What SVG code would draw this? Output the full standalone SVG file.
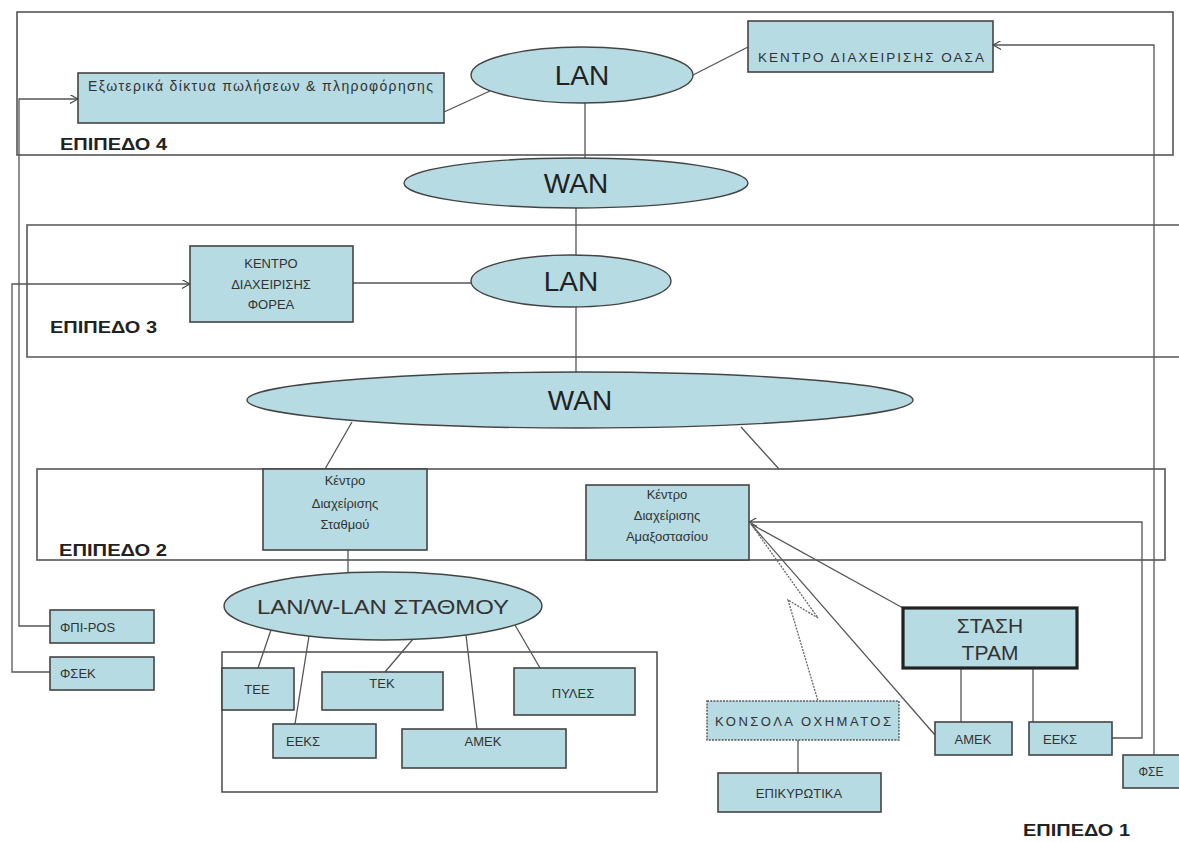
<svg xmlns="http://www.w3.org/2000/svg" width="1179" height="842" viewBox="0 0 1179 842">
  <defs>
    <marker id="arr" viewBox="0 0 10 10" refX="9" refY="5" markerWidth="9" markerHeight="9" markerUnits="userSpaceOnUse" orient="auto">
      <path d="M0,0 L9,5 L0,10" fill="none" stroke="#444" stroke-width="1.3"/>
    </marker>
  </defs>
  <style>
    .frame { fill: none; stroke: #555; stroke-width: 1.6; }
    .box { fill: #b6dbe2; stroke: #444; stroke-width: 1.6; }
    .thick { fill: #b6dbe2; stroke: #222; stroke-width: 3.2; }
    .dash { fill: #b6dbe2; stroke: #555; stroke-width: 1.4; stroke-dasharray: 2 1.2; }
    .net { fill: #b6dbe2; stroke: #444; stroke-width: 1.4; }
    .ln { fill: none; stroke: #555; stroke-width: 1.3; }
    .zz { fill: none; stroke: #666; stroke-width: 1.3; stroke-dasharray: 2 1.2; }
    text { font-family: "Liberation Sans", Arial, sans-serif; fill: #333; }
    .s { font-size: 12px; }
    .m { font-size: 13px; }
    .c { text-anchor: middle; }
    .big { font-size: 28px; fill: #222; text-anchor: middle; }
    .lvl { font-size: 16px; font-weight: bold; fill: #222; }
  </style>
  <rect width="1179" height="842" fill="#ffffff"/>

  <!-- level frames -->
  <g id="frames">
    <rect class="frame" x="17" y="12" width="1156" height="143"/>
    <path class="frame" d="M1179,225 H27 V357 H1179"/>
    <rect class="frame" x="37" y="469" width="1128" height="91"/>
    <rect class="frame" x="222" y="652" width="435" height="140"/>
  </g>

  <!-- connectors -->
  <g id="connectors">
    <!-- trunk LAN/WAN chain -->
    <line class="ln" x1="585" y1="103" x2="585" y2="158"/>
    <line class="ln" x1="576" y1="208" x2="576" y2="255"/>
    <line class="ln" x1="576" y1="307" x2="576" y2="372"/>
    <line class="ln" x1="490" y1="91" x2="444" y2="112"/>
    <line class="ln" x1="693" y1="75" x2="748" y2="47"/>
    <line class="ln" x1="353" y1="283" x2="471" y2="283"/>
    <line class="ln" x1="352" y1="422" x2="325" y2="469"/>
    <line class="ln" x1="741" y1="427" x2="779" y2="469"/>
    <line class="ln" x1="348" y1="550" x2="348" y2="573"/>
    <!-- station LAN branches -->
    <line class="ln" x1="271" y1="630" x2="258" y2="668"/>
    <line class="ln" x1="309" y1="636" x2="295" y2="724"/>
    <line class="ln" x1="413" y1="639" x2="385" y2="672"/>
    <line class="ln" x1="466" y1="635" x2="477" y2="729"/>
    <line class="ln" x1="515" y1="625" x2="540" y2="668"/>
    <!-- left feeders -->
    <polyline class="ln" points="50,626 19,626 19,99 78,99" marker-end="url(#arr)"/>
    <polyline class="ln" points="50,672 12,672 12,284 190,284" marker-end="url(#arr)"/>
    <!-- right feeders -->
    <polyline class="ln" points="1154,755 1154,45 993,45" marker-end="url(#arr)"/>
    <polyline class="ln" points="1112,738 1142,738 1142,522 749,522" marker-end="url(#arr)"/>
    <!-- tram stop links -->
    <line class="ln" x1="903" y1="608" x2="751" y2="524"/>
    <line class="ln" x1="935" y1="735" x2="751" y2="524"/>
    <line class="ln" x1="961" y1="668" x2="961" y2="722"/>
    <line class="ln" x1="1033" y1="668" x2="1033" y2="722"/>
    <!-- radio link from vehicle console -->
    <polyline class="zz" points="751,524 818,618 788,600 818,701"/>
    <line class="ln" x1="798" y1="740" x2="798" y2="773"/>
  </g>

  <!-- level 4 -->
  <g id="ext-networks">
    <rect class="box" x="78" y="73" width="366" height="50"/>
    <text x="88" y="91" font-size="14" textLength="345" lengthAdjust="spacing">Εξωτερικά δίκτυα πωλήσεων &amp; πληροφόρησης</text>
  </g>
  <g id="lan4">
    <ellipse class="net" cx="582" cy="75" rx="111" ry="28"/>
    <text class="big" x="582" y="85">LAN</text>
  </g>
  <g id="oasa">
    <rect class="box" x="748" y="21" width="245" height="51"/>
    <text class="c" x="871" y="62" font-size="13.5" textLength="226" lengthAdjust="spacing">ΚΕΝΤΡΟ ΔΙΑΧΕΙΡΙΣΗΣ  ΟΑΣΑ</text>
  </g>
  <g id="wan1">
    <ellipse class="net" cx="576" cy="183" rx="172" ry="25"/>
    <text class="big" x="576" y="193">WAN</text>
  </g>

  <!-- level 3 -->
  <g id="forea">
    <rect class="box" x="190" y="246" width="163" height="76"/>
    <text class="m c" x="271" y="268">ΚΕΝΤΡΟ</text>
    <text class="m c" x="271" y="289">ΔΙΑΧΕΙΡΙΣΗΣ</text>
    <text class="m c" x="271" y="309">ΦΟΡΕΑ</text>
  </g>
  <g id="lan3">
    <ellipse class="net" cx="571" cy="281" rx="100" ry="26"/>
    <text class="big" x="571" y="291">LAN</text>
  </g>
  <g id="wan2">
    <ellipse class="net" cx="580" cy="400" rx="333" ry="28"/>
    <text class="big" x="580" y="410">WAN</text>
  </g>

  <!-- level 2 -->
  <g id="station-center">
    <rect class="box" x="263" y="469" width="164" height="81"/>
    <text class="m c" x="345" y="485">Κέντρο</text>
    <text class="m c" x="345" y="508">Διαχείρισης</text>
    <text class="m c" x="345" y="529">Σταθμού</text>
  </g>
  <g id="depot-center">
    <rect class="box" x="586" y="485" width="163" height="75"/>
    <text class="m c" x="667" y="499">Κέντρο</text>
    <text class="m c" x="667" y="520">Διαχείρισης</text>
    <text class="m c" x="667" y="541">Αμαξοστασίου</text>
  </g>

  <!-- level 1: station -->
  <g id="station-lan">
    <ellipse class="net" cx="383" cy="606" rx="159" ry="34"/>
    <text x="383" y="614" font-size="21" fill="#222" text-anchor="middle" textLength="252" lengthAdjust="spacingAndGlyphs">LAN/W-LAN ΣΤΑΘΜΟΥ</text>
  </g>
  <g id="tee">
    <rect class="box" x="222" y="668" width="72" height="42"/>
    <text class="m c" x="257" y="694">ΤΕΕ</text>
  </g>
  <g id="tek">
    <rect class="box" x="322" y="672" width="121" height="38"/>
    <text class="m c" x="382" y="688">ΤΕΚ</text>
  </g>
  <g id="pyles">
    <rect class="box" x="514" y="668" width="121" height="47"/>
    <text class="m c" x="573" y="698">ΠΥΛΕΣ</text>
  </g>
  <g id="eeks-station">
    <rect class="box" x="273" y="724" width="103" height="34"/>
    <text class="m c" x="303" y="746">ΕΕΚΣ</text>
  </g>
  <g id="amek-station">
    <rect class="box" x="402" y="729" width="164" height="39"/>
    <text class="m c" x="483" y="746">ΑΜΕΚ</text>
  </g>

  <!-- level 1: side devices -->
  <g id="fpi-pos">
    <rect class="box" x="50" y="610" width="104" height="33"/>
    <text class="m" x="60" y="632">ΦΠΙ-POS</text>
  </g>
  <g id="fsek">
    <rect class="box" x="50" y="657" width="104" height="33"/>
    <text class="m" x="60" y="678">ΦΣΕΚ</text>
  </g>

  <!-- level 1: vehicle and tram stop -->
  <g id="console">
    <rect class="dash" x="707" y="701" width="192" height="39"/>
    <text class="m c" x="803" y="726" textLength="176" lengthAdjust="spacing">ΚΟΝΣΟΛΑ ΟΧΗΜΑΤΟΣ</text>
  </g>
  <g id="validators">
    <rect class="box" x="718" y="773" width="163" height="39"/>
    <text class="m c" x="799" y="798">ΕΠΙΚΥΡΩΤΙΚΑ</text>
  </g>
  <g id="tram-stop">
    <rect class="thick" x="903" y="608" width="174" height="60"/>
    <text x="990" y="633" font-size="21" fill="#222" text-anchor="middle">ΣΤΑΣΗ</text>
    <text x="990" y="660" font-size="21" fill="#222" text-anchor="middle">ΤΡΑΜ</text>
  </g>
  <g id="amek-stop">
    <rect class="box" x="935" y="722" width="77" height="33"/>
    <text class="m c" x="973" y="744">ΑΜΕΚ</text>
  </g>
  <g id="eeks-stop">
    <rect class="box" x="1029" y="722" width="83" height="33"/>
    <text class="m c" x="1060" y="744">ΕΕΚΣ</text>
  </g>
  <g id="fse">
    <rect class="box" x="1123" y="755" width="60" height="33"/>
    <text class="s c" x="1151" y="776">ΦΣΕ</text>
  </g>

  <!-- level captions -->
  <g id="labels">
    <text class="lvl" x="60" y="150" textLength="107" lengthAdjust="spacingAndGlyphs">ΕΠΙΠΕΔΟ 4</text>
    <text class="lvl" x="50" y="333" textLength="107" lengthAdjust="spacingAndGlyphs">ΕΠΙΠΕΔΟ 3</text>
    <text class="lvl" x="59" y="556" textLength="108" lengthAdjust="spacingAndGlyphs">ΕΠΙΠΕΔΟ 2</text>
    <text class="lvl" x="1023" y="836" textLength="107" lengthAdjust="spacingAndGlyphs">ΕΠΙΠΕΔΟ 1</text>
  </g>
</svg>
